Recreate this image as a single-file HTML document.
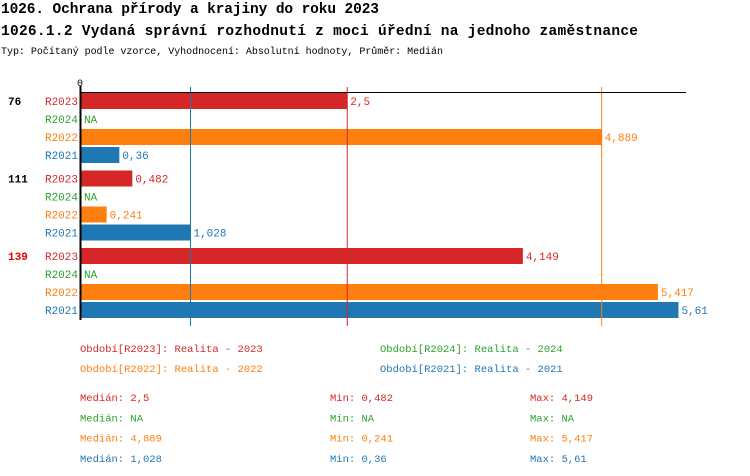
<!DOCTYPE html>
<html><head><meta charset="utf-8"><style>
body{margin:0;background:#fff}
svg{display:block;font-family:"Liberation Mono",monospace}
</style></head><body>
<svg id="c" width="750" height="476">
<text x="1" y="13" font-size="14.5" font-weight="bold" textLength="378">1026. Ochrana přírody a krajiny do roku 2023</text>
<text x="1" y="35" font-size="14.5" font-weight="bold" textLength="637">1026.1.2 Vydaná správní rozhodnutí z moci úřední na jednoho zaměstnance</text>
<text x="1" y="54" font-size="10" textLength="442">Typ: Počítaný podle vzorce, Vyhodnocení: Absolutní hodnoty, Průměr: Medián</text>
<g id="plot"></g>
</svg>
<script>
const groups=["76","111","139"];
const groupColors=["#000","#000","#e00"];
const series=["R2023","R2024","R2022","R2021"];
const colors=["#d62728","#2ca02c","#ff7f0e","#1f77b4"];
const values=[[2.5,0.482,4.149],[null,null,null],[4.889,0.241,5.417],[0.36,1.028,5.61]];
const medians=[2.5,null,4.889,1.028];
const mins=["0,482","NA","0,241","0,36"];
const maxs=["4,149","NA","5,417","5,61"];
const medLabels=["2,5","NA","4,889","1,028"];
const legendNames=["Období[R2023]: Realita - 2023","Období[R2024]: Realita - 2024","Období[R2022]: Realita - 2022","Období[R2021]: Realita - 2021"];
const NS="http://www.w3.org/2000/svg";
const g=document.getElementById('plot');
const x0=81,sc=106.5;
const xs=v=>x0+v*sc;
const gy=i=>101+i*77.5;
function el(t,a,txt){const e=document.createElementNS(NS,t);for(const k in a)e.setAttribute(k,a[k]);if(txt!=null)e.textContent=txt;g.appendChild(e);return e;}
const fmt=v=>String(v).replace('.',',');
// bars
groups.forEach((gn,gi)=>{
  let t=el('text',{x:8,y:gy(gi)+4,'font-size':11,'font-weight':'bold',fill:groupColors[gi]},gn);
  
  
  series.forEach((s,si)=>{
    const cy=gy(gi)+si*18;
    let l=el('text',{x:78,y:cy+4,'font-size':11,fill:colors[si],'text-anchor':'end'},s);
    
    
    const v=values[si][gi];
    if(v==null){
      let n=el('text',{x:84,y:cy+4,'font-size':11,fill:colors[si]},'NA');
      
      
    }else{
      let b=el('rect',{x:x0,y:cy-8,width:xs(v)-x0,height:16,fill:colors[si]});
      
      
      let vl=el('text',{x:xs(v)+3,y:cy+4,'font-size':11,fill:colors[si]},fmt(v));
      
      
    }
  });
});
// median lines
medians.forEach((m,i)=>{if(m==null)return;
  let ln=el('line',{x1:xs(m),x2:xs(m),y1:87,y2:326,stroke:colors[i],'stroke-width':1});
  
  
});
let ax=el('line',{x1:80.5,x2:80.5,y1:86,y2:320,stroke:'#000','stroke-width':2});


let tx=el('line',{x1:80,x2:686,y1:92.5,y2:92.5,stroke:'#000','stroke-width':1});


let z=el('text',{x:77,y:86,'font-size':10},'0');


// legend
legendNames.forEach((n,i)=>{
  let t=el('text',{x:i%2?380:80,y:352+Math.floor(i/2)*20,'font-size':10.5,fill:colors[i]},n);
  
  
});
series.forEach((s,i)=>{
  const y=401+i*20.3;
  let a=el('text',{x:80,y:y,'font-size':10.5,fill:colors[i]},'Medián: '+medLabels[i]);
  
  
  let b=el('text',{x:330,y:y,'font-size':10.5,fill:colors[i]},'Min: '+mins[i]);
  
  
  let c=el('text',{x:530,y:y,'font-size':10.5,fill:colors[i]},'Max: '+maxs[i]);
  
  
});
</script>
</body></html>
